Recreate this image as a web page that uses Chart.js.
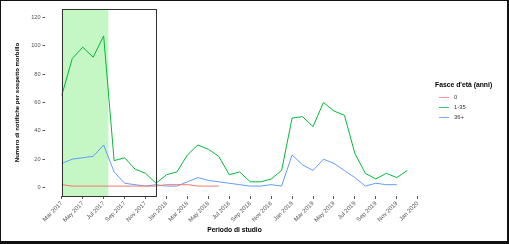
<!DOCTYPE html>
<html>
<head>
<meta charset="utf-8">
<script src="https://cdn.jsdelivr.net/npm/chart.js@4.4.1/dist/chart.umd.min.js"></script>
<style>
  html, body { margin: 0; padding: 0; background: #fff; }
  #wrap { position: relative; width: 509px; height: 244px; }
</style>
</head>
<body>
<div id="wrap"><canvas id="grafico" width="509" height="244"></canvas></div>
<script>
// mesi da Mar 2017 a Dic 2019 (indice 0 = Mar 2017)
var mesi = ['2017-03','2017-04','2017-05','2017-06','2017-07','2017-08','2017-09','2017-10','2017-11','2017-12',
            '2018-01','2018-02','2018-03','2018-04','2018-05','2018-06','2018-07','2018-08','2018-09','2018-10','2018-11','2018-12',
            '2019-01','2019-02','2019-03','2019-04','2019-05','2019-06','2019-07','2019-08','2019-09','2019-10','2019-11','2019-12'];

// notifiche per fascia d'eta
var eta0    = [2,1,1,1,1,1,1,1,1,1, 2,2,2,1,1,1];
var eta1_35 = [65,91,99,92,107,19,21,13,10,3, 9,11,23,30,27,22,9,11,4,4,6,12, 49,50,43,60,54,51,24,10,6,10,7,12];
var eta36   = [17,20,21,22,30,11,3,2,1,2, 1,1,4,7,5,4,3,2,1,1,2,1, 23,16,12,20,17,12,7,1,3,2,2];

var fasce = ['0', '1-35', '36+'];
var colori = ['#F8766D', '#00BA38', '#619CFF'];

// etichette asse x (ogni 2 mesi)
var tickMesi = [0,2,4,6,8,10,12,14,16,18,20,22,24,26,28,30,32,34];
var tickEtichette = ['Mar 2017','May 2017','Jul 2017','Sep 2017','Nov 2017','Jan 2018','Mar 2018','May 2018','Jul 2018',
                     'Sep 2018','Nov 2018','Jan 2019','Mar 2019','May 2019','Jul 2019','Sep 2019','Nov 2019','Jan 2020'];
var tickY = [0,20,40,60,80,100,120];

// periodo evidenziato (in mesi dall'inizio)
var fasciaVerde = [0, 4.45];
var riquadro = [0, 9];

var FONT = "'Liberation Sans', Arial, sans-serif";

function punti(serie) {
    return serie.map(function (v, i) { return { x: i, y: v }; });
}

var serie = [eta0, eta1_35, eta36];
var datasets = serie.map(function (s, k) {
    return {
        label: fasce[k],
        data: punti(s),
        borderColor: colori[k],
        borderWidth: 1,
        pointRadius: 0,
        fill: false,
        tension: 0
    };
});

var periodoPlugin = {
    id: 'periodo',
    beforeDatasetsDraw: function (chart) {
        var ctx = chart.ctx, a = chart.chartArea, sx = chart.scales.x;
        var x0 = sx.getPixelForValue(fasciaVerde[0]);
        var x1 = sx.getPixelForValue(fasciaVerde[1]);
        ctx.save();
        ctx.fillStyle = '#c4f7c4';
        ctx.fillRect(x0, a.top, x1 - x0, a.bottom - a.top);
        ctx.restore();
    },
    afterDatasetsDraw: function (chart) {
        var ctx = chart.ctx, a = chart.chartArea, sx = chart.scales.x;
        var x0 = sx.getPixelForValue(riquadro[0]);
        var x1 = sx.getPixelForValue(riquadro[1]);
        ctx.save();
        ctx.strokeStyle = '#333';
        ctx.lineWidth = 1;
        ctx.strokeRect(Math.round(x0) + 0.5, Math.round(a.top) + 0.5, Math.round(x1 - x0), Math.round(a.bottom - a.top));
        ctx.restore();
    },
    afterDraw: function (chart) {
        var ctx = chart.ctx;
        ctx.save();
        // legenda
        ctx.textBaseline = 'middle';
        ctx.textAlign = 'left';
        ctx.fillStyle = '#000';
        ctx.font = 'bold 6.8px ' + FONT;
        ctx.fillText("Fasce d'età (anni)", 435, 85);
        ctx.font = '5.8px ' + FONT;
        for (var k = 0; k < fasce.length; k++) {
            var y = 97.5 + k * 10;
            ctx.strokeStyle = colori[k];
            ctx.lineWidth = 0.8;
            ctx.beginPath();
            ctx.moveTo(439, y);
            ctx.lineTo(449, y);
            ctx.stroke();
            ctx.fillStyle = '#333';
            ctx.fillText(fasce[k], 454, y);
        }
        // cornice esterna
        ctx.fillStyle = '#111';
        ctx.fillRect(0, 0, 509, 1);
        ctx.fillRect(0, 0, 1, 244);
        ctx.fillRect(507, 0, 2, 244);
        ctx.fillRect(0, 241, 509, 3);
        ctx.restore();
    }
};

new Chart(document.getElementById('grafico'), {
    type: 'line',
    data: { datasets: datasets },
    options: {
        responsive: false,
        animation: false,
        layout: { padding: { left: 14, right: 84.5, top: 9, bottom: 10 } },
        plugins: { legend: { display: false }, tooltip: { enabled: false } },
        scales: {
            x: {
                type: 'linear',
                min: -1.65,
                max: 34.65,
                afterBuildTicks: function (s) { s.ticks = tickMesi.map(function (v) { return { value: v }; }); },
                afterFit: function (s) { s.height = 38; },
                ticks: {
                    autoSkip: false,
                    minRotation: 45,
                    maxRotation: 45,
                    padding: 1,
                    color: '#555',
                    font: { family: FONT, size: 6 },
                    callback: function (v) { return tickEtichette[tickMesi.indexOf(v)]; }
                },
                grid: { drawOnChartArea: false, drawTicks: true, tickLength: 3, color: '#555' },
                border: { display: false },
                title: { display: true, text: 'Periodo di studio', color: '#000', padding: 0, font: { family: FONT, size: 6.7, weight: 'bold' } }
            },
            y: {
                min: -6,
                max: 126,
                afterBuildTicks: function (s) { s.ticks = tickY.map(function (v) { return { value: v }; }); },
                afterFit: function (s) { s.width = 30.5; },
                ticks: {
                    padding: 2,
                    color: '#555',
                    font: { family: FONT, size: 5.6 }
                },
                grid: { drawOnChartArea: false, drawTicks: true, tickLength: 2, color: '#555' },
                border: { display: false },
                title: { display: true, text: 'Numero di notifiche per sospetto morbillo', color: '#000', padding: 0, font: { family: FONT, size: 6, weight: 'bold' } }
            }
        }
    },
    plugins: [periodoPlugin]
});
</script>
</body>
</html>
